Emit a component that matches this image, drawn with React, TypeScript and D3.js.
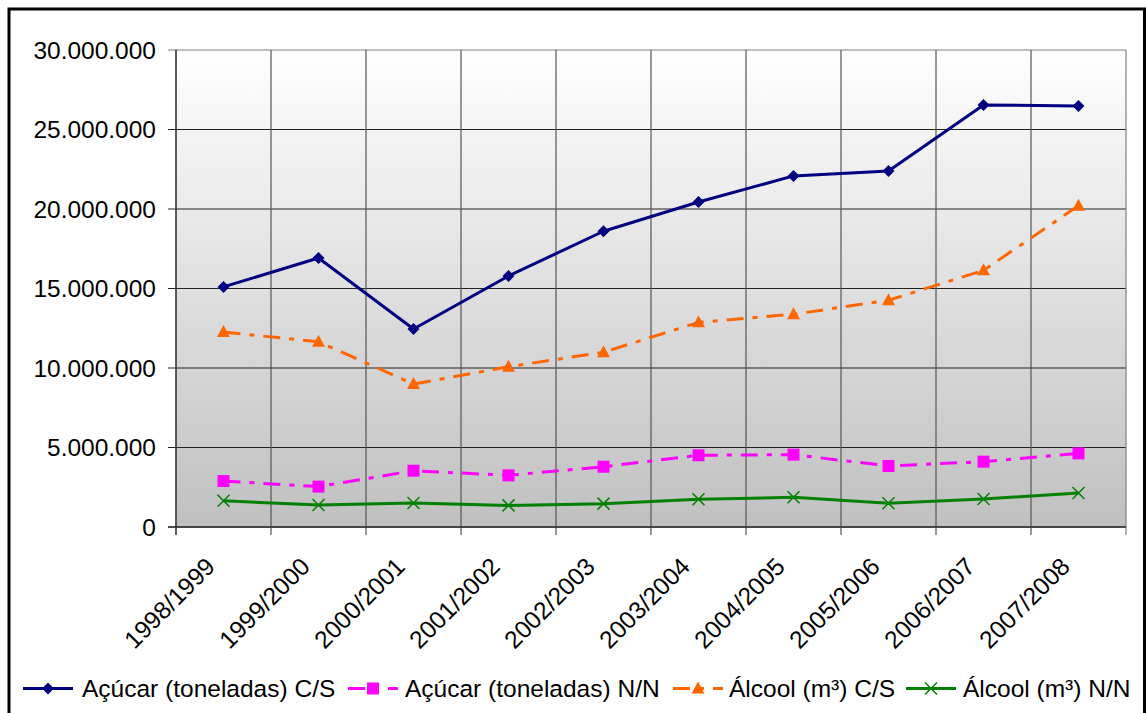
import React from 'react';
import * as d3 from 'd3';

const categories = ['1998/1999', '1999/2000', '2000/2001', '2001/2002', '2002/2003', '2003/2004', '2004/2005', '2005/2006', '2006/2007', '2007/2008'];
const acucarCS = [15100000, 16920000, 12450000, 15790000, 18600000, 20440000, 22080000, 22390000, 26540000, 26480000];
const acucarNN = [2890000, 2540000, 3540000, 3250000, 3790000, 4510000, 4550000, 3840000, 4110000, 4630000];
const alcoolCS = [12260000, 11650000, 8990000, 10080000, 10990000, 12870000, 13380000, 14260000, 16140000, 20210000];
const alcoolNN = [1650000, 1380000, 1510000, 1360000, 1470000, 1740000, 1870000, 1490000, 1760000, 2140000];
const yTicks = [0, 5000000, 10000000, 15000000, 20000000, 25000000, 30000000];
const seriesNames = ['Açúcar (toneladas) C/S', 'Açúcar (toneladas) N/N', 'Álcool (m³) C/S', 'Álcool (m³) N/N'];

const W = 1146, H = 713;
const left = 176, right = 1126, top = 50, bottom = 527;
const FONT = '"Liberation Sans", Arial, sans-serif';
const FS = 24.5;

const fmt = (v: number) => (v === 0 ? '0' : d3.format(',')(v).replace(/,/g, '.'));

type Series = { name: string; values: number[]; color: string; dash?: string; marker: string };
const series: Series[] = [
  { name: seriesNames[0], values: acucarCS, color: '#000080', marker: 'diamond' },
  { name: seriesNames[1], values: acucarNN, color: '#ff00ff', dash: '17 9 5 9', marker: 'square' },
  { name: seriesNames[2], values: alcoolCS, color: '#ff6600', dash: '17 9 5 9', marker: 'triangle' },
  { name: seriesNames[3], values: alcoolNN, color: '#008000', marker: 'x' },
];

function Marker({ type, x, y, color }: { type: string; x: number; y: number; color: string }) {
  if (type === 'diamond') {
    const s = 6;
    return <path d={`M${x},${y - s}L${x + s},${y}L${x},${y + s}L${x - s},${y}Z`} fill={color} />;
  }
  if (type === 'square') {
    const s = 6;
    return <rect x={x - s} y={y - s} width={2 * s} height={2 * s} fill={color} />;
  }
  if (type === 'triangle') {
    return <path d={`M${x},${y - 7}L${x + 6.5},${y + 5}L${x - 6.5},${y + 5}Z`} fill={color} />;
  }
  const s = 6;
  return (
    <path d={`M${x - s},${y - s}L${x + s},${y + s}M${x - s},${y + s}L${x + s},${y - s}`} stroke={color} strokeWidth={1.5} fill="none" />
  );
}

export default function App() {
  const x = d3.scaleBand<string>().domain(categories).range([left, right]);
  const y = d3.scaleLinear().domain([0, 30000000]).range([bottom, top]);
  const cx = (c: string) => (x(c) as number) + x.bandwidth() / 2;
  const line = d3
    .line<number>()
    .x((_, i) => cx(categories[i]))
    .y((v) => y(v));
  const bounds = categories.map((c) => x(c) as number).concat([right]);

  const legendItems = [
    { x0: 23, tx: 82 },
    { x0: 348, tx: 405 },
    { x0: 673, tx: 729 },
    { x0: 906, tx: 963 },
  ];
  const legY = 688.5;

  return (
    <svg width={W} height={H} style={{ position: 'absolute', left: 0, top: 0 }} fontFamily={FONT}>
      <defs>
        <linearGradient id="bg" x1="0" y1="0" x2="0" y2="1">
          <stop offset="0" stopColor="#ffffff" />
          <stop offset="1" stopColor="#c0c0c0" />
        </linearGradient>
      </defs>
      <rect x={0} y={0} width={W} height={H} fill="#ffffff" />
      <rect x={left} y={top} width={right - left} height={bottom - top} fill="url(#bg)" />
      {yTicks.map((t) => (
        <line key={'h' + t} x1={left - 8} x2={right} y1={y(t)} y2={y(t)} stroke={t === 30000000 ? '#808080' : '#222'} strokeWidth={1.2} />
      ))}
      {bounds.map((b, i) => (
        <line key={'v' + i} x1={b} x2={b} y1={top} y2={bottom + 8} stroke={i === bounds.length - 1 ? '#808080' : '#555'} strokeWidth={1.2} />
      ))}
      <line x1={left} x2={left} y1={top} y2={bottom + 8} stroke="#333" strokeWidth={1.2} />
      <line x1={left - 8} x2={right} y1={bottom} y2={bottom} stroke="#333" strokeWidth={1.5} />
      {yTicks.map((t) => (
        <text key={'yl' + t} x={156} y={y(t)} dy="0.35em" textAnchor="end" fontSize={FS} fill="#000">
          {fmt(t)}
        </text>
      ))}
      {categories.map((c) => (
        <text
          key={'xl' + c}
          transform={`translate(${cx(c) - 7},${bottom + 41}) rotate(-45)`}
          textAnchor="end"
          fontSize={FS}
          fill="#000"
        >
          {c}
        </text>
      ))}
      {series.map((s) => (
        <g key={s.name}>
          <path d={line(s.values) as string} fill="none" stroke={s.color} strokeWidth={3} strokeDasharray={s.dash} strokeLinejoin="round" />
          {s.values.map((v, i) => (
            <Marker key={i} type={s.marker} x={cx(categories[i])} y={y(v)} color={s.color} />
          ))}
        </g>
      ))}
      {series.map((s, i) => {
        const it = legendItems[i];
        return (
          <g key={'lg' + i}>
            <line x1={it.x0} x2={it.x0 + 50} y1={legY} y2={legY} stroke={s.color} strokeWidth={3} strokeDasharray={s.dash} />
            <Marker type={s.marker} x={it.x0 + 25} y={legY} color={s.color} />
            <text x={it.tx} y={legY} dy="0.35em" fontSize={FS} fill="#000">
              {s.name}
            </text>
          </g>
        );
      })}
      <rect x={9} y={9} width={1135.5} height={H + 10} fill="none" stroke="#000" strokeWidth={3} />
    </svg>
  );
}
